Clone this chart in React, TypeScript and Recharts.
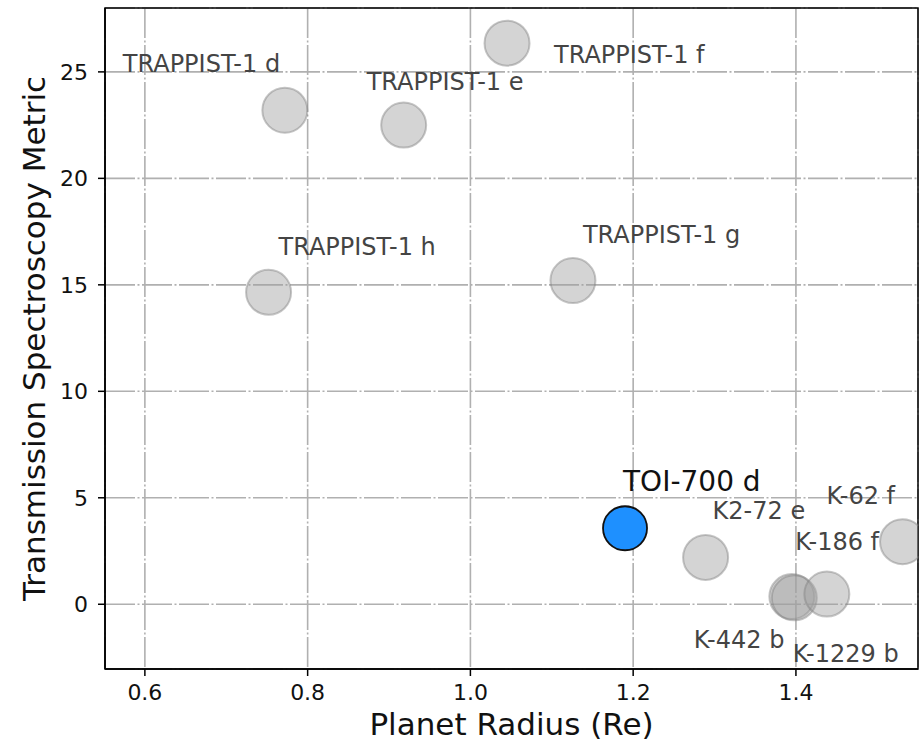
import React from "react"
import {
  ScatterChart,
  Scatter,
  XAxis,
  YAxis,
  CartesianGrid,
  ReferenceArea,
} from "recharts"

// planet names, radius (Earth radii) and transmission spectroscopy metric
const planetNames = [
  "TRAPPIST-1 d",
  "TRAPPIST-1 e",
  "TRAPPIST-1 f",
  "TRAPPIST-1 h",
  "TRAPPIST-1 g",
  "K2-72 e",
  "K-62 f",
  "K-442 b",
  "K-186 f",
  "K-1229 b",
]
const planetRadii = [0.772, 0.918, 1.045, 0.752, 1.126, 1.289, 1.531, 1.395, 1.398, 1.438]
const planetTsm = [23.2, 22.5, 26.35, 14.65, 15.2, 2.2, 2.94, 0.36, 0.3, 0.48]

const targetName = "TOI-700 d"
const targetRadius = 1.19
const targetTsm = 3.57

const xTicks = [0.6, 0.8, 1.0, 1.2, 1.4]
const yTicks = [0, 5, 10, 15, 20, 25]

const X_MIN = 0.551
const X_MAX = 1.55
const Y_MIN = -3.04
const Y_MAX = 28.0

const FONT = "'DejaVu Sans', sans-serif"

// label placement relative to each marker (pixels)
const labelOffsets: Record<string, [number, number]> = {
  "TRAPPIST-1 d": [-162, -38],
  "TRAPPIST-1 e": [-37, -35],
  "TRAPPIST-1 f": [47, 20],
  "TRAPPIST-1 h": [10, -37],
  "TRAPPIST-1 g": [10, -38],
  "K2-72 e": [7, -38],
  "K-62 f": [-76, -38],
  "K-442 b": [-98, 51],
  "K-186 f": [1, -48],
  "K-1229 b": [-34, 68],
  "TOI-700 d": [-2, -37],
}

const others = planetNames.map((name, i) => ({ name, r: planetRadii[i], tsm: planetTsm[i] }))
const target = [{ name: targetName, r: targetRadius, tsm: targetTsm }]
const allPoints = [...others, ...target]

const GrayDot = (props: any) => (
  <circle
    cx={props.cx}
    cy={props.cy}
    r={22.5}
    fill="#a0a0a0"
    fillOpacity={0.45}
    stroke="#808080"
    strokeOpacity={0.45}
    strokeWidth={2}
  />
)

const BlueDot = (props: any) => (
  <circle cx={props.cx} cy={props.cy} r={22} fill="#1e90ff" stroke="#111" strokeWidth={1.8} />
)

const PointLabel = (props: any) => {
  const name = props.payload?.name
  const [dx, dy] = labelOffsets[name] || [0, 0]
  const isTarget = name === targetName
  return (
    <text
      x={props.cx + dx}
      y={props.cy + dy}
      fontFamily={FONT}
      fontSize={isTarget ? 28 : 24}
      fill={isTarget ? "#111" : "#444"}
    >
      {name}
    </text>
  )
}

const XTick = (props: any) => (
  <text x={props.x} y={props.y} dy="0.71em" textAnchor="middle" fontFamily={FONT} fontSize={22} fill="#111">
    {Number(props.payload.value).toFixed(1)}
  </text>
)

const YTick = (props: any) => (
  <text x={props.x} y={props.y} dy="0.355em" textAnchor="end" fontFamily={FONT} fontSize={22} fill="#111">
    {props.payload.value}
  </text>
)

export default function App() {
  return (
    <div style={{ position: "absolute", left: 0, top: 0, width: 920, height: 742, background: "#fff" }}>
      <ScatterChart width={920} height={742} margin={{ top: 8, right: 2, left: 0, bottom: 0 }}>
        <CartesianGrid stroke="#b0b0b0" strokeWidth={1.6} strokeDasharray="30 2.5 2 2.5" />
        <XAxis
          type="number"
          dataKey="r"
          domain={[X_MIN, X_MAX]}
          ticks={xTicks}
          allowDataOverflow
          height={73}
          tickSize={7}
          tickMargin={8}
          stroke="#000"
          strokeWidth={1.5}
          tick={XTick}
          label={{
            value: "Planet Radius (Re)",
            position: "insideBottom",
            offset: 7,
            fill: "#111",
            fontSize: 31,
            fontFamily: FONT,
          }}
        />
        <YAxis
          type="number"
          dataKey="tsm"
          domain={[Y_MIN, Y_MAX]}
          ticks={yTicks}
          allowDataOverflow
          width={105}
          tickSize={7}
          tickMargin={10}
          stroke="#000"
          strokeWidth={1.5}
          tick={YTick}
          label={{
            content: (p: any) => {
              const vb = p.viewBox
              const cx = 45
              const cy = vb.y + vb.height / 2
              return (
                <text
                  x={cx}
                  y={cy}
                  transform={`rotate(-90, ${cx}, ${cy})`}
                  textAnchor="middle"
                  fontFamily={FONT}
                  fontSize={31}
                  fill="#111"
                >
                  Transmission Spectroscopy Metric
                </text>
              )
            },
          }}
        />
        <ReferenceArea
          x1={X_MIN}
          x2={X_MAX}
          y1={Y_MIN}
          y2={Y_MAX}
          fill="none"
          stroke="#000"
          strokeWidth={1.5}
          ifOverflow="visible"
        />
        <Scatter data={others} shape={GrayDot} isAnimationActive={false} />
        <Scatter data={target} shape={BlueDot} isAnimationActive={false} />
        <Scatter data={allPoints} shape={PointLabel} isAnimationActive={false} />
      </ScatterChart>
    </div>
  )
}
